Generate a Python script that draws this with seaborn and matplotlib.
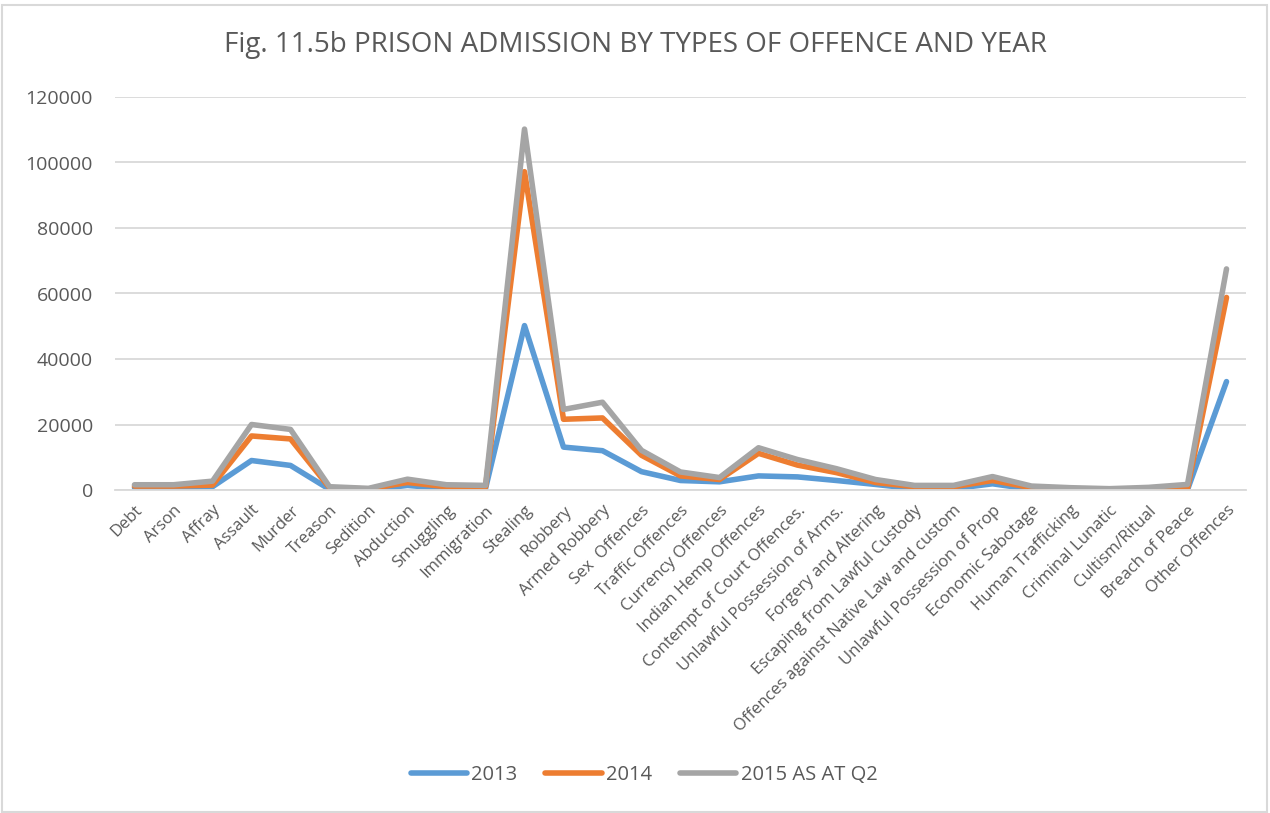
import matplotlib
matplotlib.use("Agg")
import matplotlib.pyplot as plt
import seaborn as sns
import pandas as pd
from matplotlib.patches import Rectangle

categories = ["Debt", "Arson", "Affray", "Assault", "Murder", "Treason", "Sedition",
              "Abduction", "Smuggling", "Immigration", "Stealing", "Robbery",
              "Armed Robbery", "Sex  Offences", "Traffic Offences", "Currency Offences",
              "Indian Hemp Offences", "Contempt of Court Offences.",
              "Unlawful Possession of Arms.", "Forgery and Altering",
              "Escaping from Lawful Custody", "Offences against Native Law and custom",
              "Unlawful Possession of Prop", "Economic Sabotage", "Human Trafficking",
              "Criminal Lunatic", "Cultism/Ritual", "Breach of Peace", "Other Offences"]

y2013 = [700, 700, 1000, 9000, 7500, 200, 0, 1400, 400, 400, 50200, 13100,
         12000, 5600, 2900, 2500, 4300, 4000, 2900, 1700, 400, 400, 1900, 200,
         100, 100, 0, 100, 33100]
y2014 = [1200, 1200, 1500, 16500, 15600, 700, 300, 2300, 1000, 900, 97200, 21600,
         22000, 10600, 4300, 3200, 11200, 7600, 5300, 2300, 1000, 1000, 2900, 700,
         300, 200, 400, 500, 58800]
y2015 = [1600, 1600, 2700, 20000, 18500, 1000, 500, 3300, 1600, 1400, 110200, 24600,
         26800, 12100, 5500, 3800, 12900, 9300, 6500, 3200, 1400, 1400, 4100, 1200,
         700, 400, 800, 1700, 67500]
series_names = ["2013", "2014", "2015 AS AT Q2"]
y_ticks = [0, 20000, 40000, 60000, 80000, 100000, 120000]

rows = []
for name, vals in zip(series_names, [y2013, y2014, y2015]):
    for c, v in zip(categories, vals):
        rows.append({"Offence": c, "Admissions": v, "Year": name})
df = pd.DataFrame(rows)

sns.set_theme(style="white")
plt.rcParams['font.family'] = ['Open Sans', 'DejaVu Sans']
text_color = "#595959"

fig = plt.figure(figsize=(12.7, 8.13), dpi=100)
ax = fig.add_axes([115 / 1270, 1 - 490 / 813, 1131 / 1270, 393 / 813])

palette = {"2013": "#5B9BD5", "2014": "#ED7D31", "2015 AS AT Q2": "#A5A5A5"}
sns.lineplot(data=df, x="Offence", y="Admissions", hue="Year", palette=palette,
             sort=False, linewidth=4.0, ax=ax, legend=True,
             solid_capstyle="round", solid_joinstyle="round")

ax.set_xlim(-0.5, len(categories) - 0.5)
ax.set_ylim(0, 120000)
ax.set_yticks(y_ticks)
ax.set_yticklabels([str(t) for t in y_ticks])
ax.set_xticks(range(len(categories)))
ax.set_xticklabels(categories, rotation=45, ha="right", rotation_mode="anchor")
ax.tick_params(axis="x", length=0, pad=9, labelsize=12, labelcolor=text_color)
ax.tick_params(axis="y", length=0, pad=16, labelsize=14, labelcolor=text_color)
ax.yaxis.grid(True, color="#D9D9D9", linewidth=1.3)
ax.xaxis.grid(False)
ax.set_axisbelow(True)
for s in ["top", "right", "left"]:
    ax.spines[s].set_visible(False)
ax.spines["bottom"].set_color("#D9D9D9")
ax.spines["bottom"].set_linewidth(1.3)
ax.set_xlabel("")
ax.set_ylabel("")

fig.text(0.5, 1 - 45 / 813, "Fig. 11.5b PRISON ADMISSION BY TYPES OF OFFENCE AND YEAR",
         ha="center", va="center", fontsize=20, color=text_color)

handles, labels = ax.get_legend_handles_labels()
ax.legend_.remove()
fig.legend(handles, labels, loc="center", bbox_to_anchor=(0.507, 1 - 775 / 813),
           ncol=3, frameon=False, fontsize=14.5, labelcolor=text_color,
           handlelength=2.8, handletextpad=0.2, columnspacing=1.4)

fig.patches.append(Rectangle((0.0015, 0.0015), 0.996, 0.992, transform=fig.transFigure,
                             fill=False, edgecolor="#D9D9D9", linewidth=1.5))

fig.savefig("out.png", dpi=100, facecolor="white")
